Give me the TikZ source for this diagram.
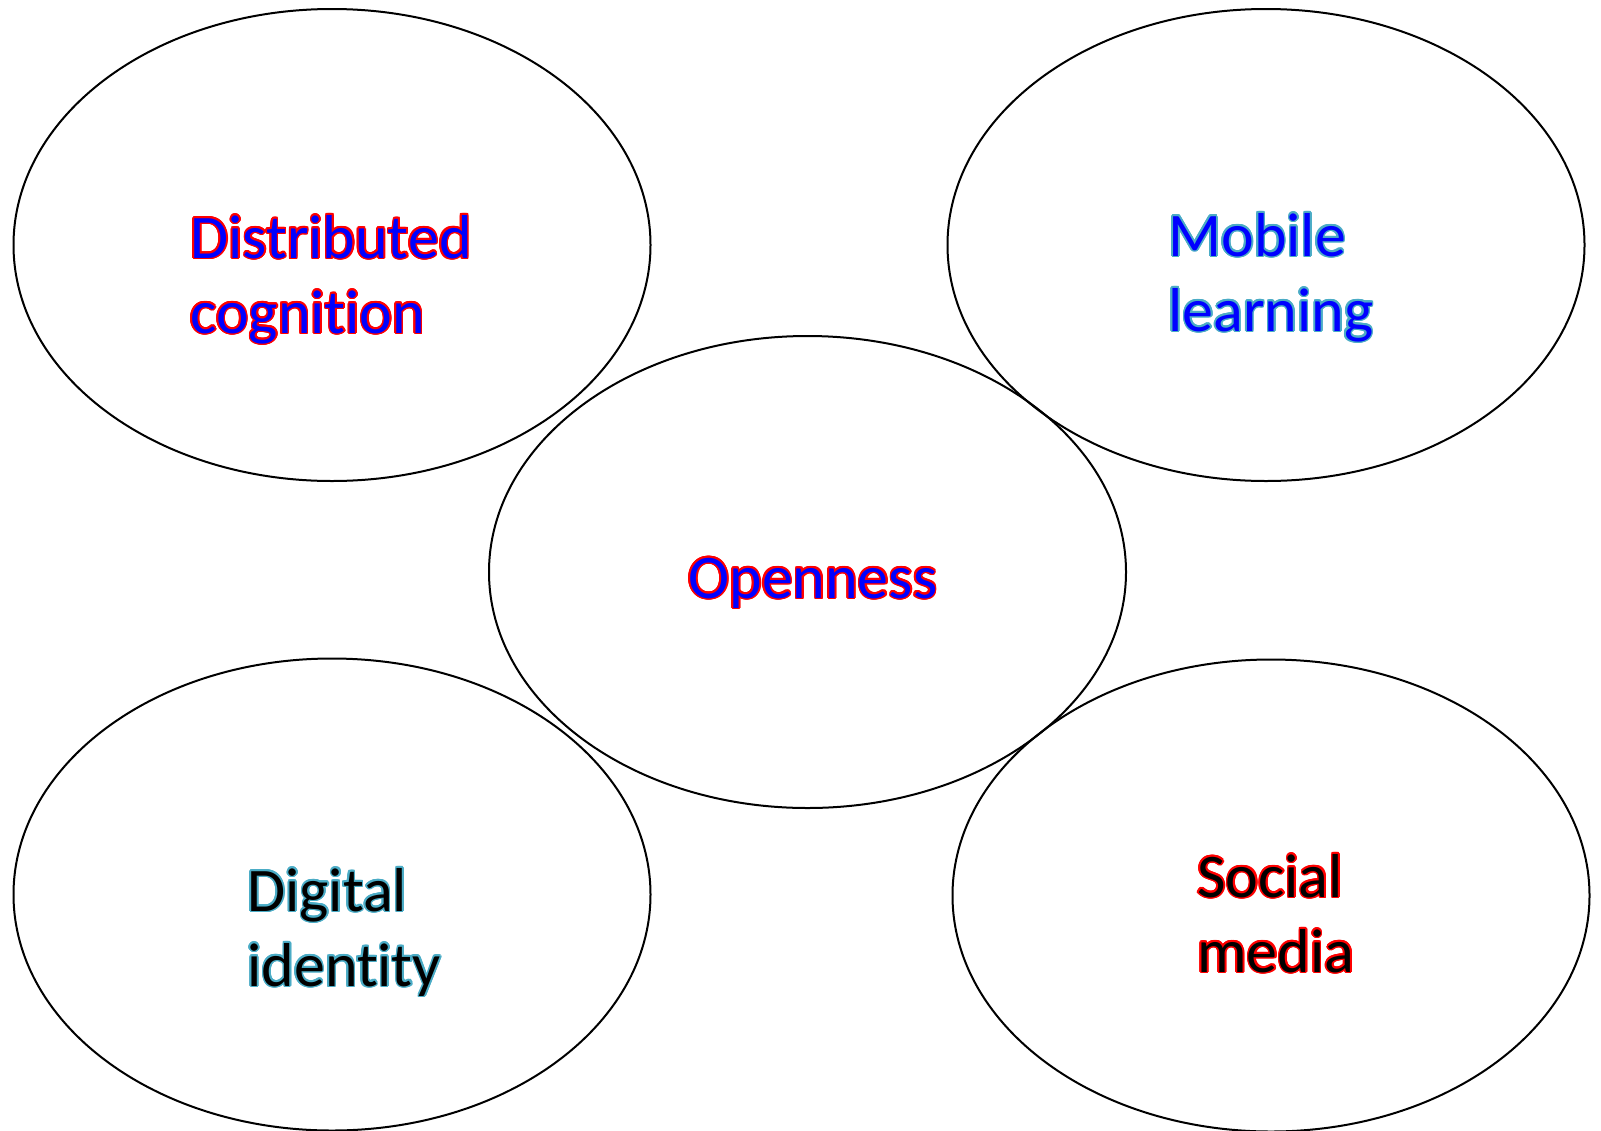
\documentclass[tikz,border=0pt]{standalone}
\usepackage{fontspec}
\setmainfont{Carlito}[Ligatures={NoCommon,NoRare}]
\usetikzlibrary{shapes.geometric,calc}

\definecolor{fillblue}{HTML}{0000FF}
\definecolor{edgered}{HTML}{FF0000}
\definecolor{edgeteal}{HTML}{4BACC6}

\tikzset{
  bubble/.style={draw=black, line width=1pt, ellipse, inner sep=0pt,
    minimum width=318.5pt, minimum height=236pt},
  lbl/.style={inner sep=0pt, anchor=base west, align=left,
    font=\fontsize{31}{37.5}\selectfont},
}

% text with a coloured rim: copies of the label in the rim colour, then the label itself
\newcommand\rimlabel[5]{%
  \foreach \ang in {0,22.5,...,337.5}
    \node[lbl, text=#4] at ($(#2)+(\ang:0.8pt)$) {#5};
  \node[lbl, text=#3] (#1) at (#2) {#5};
}

\begin{document}
\begin{tikzpicture}[x=0.5pt, y=-0.5pt]
  \useasboundingbox (0,0) rectangle (1601,1130);

  \node[bubble] (tl) at (332,245) {};
  \node[bubble] (tr) at (1266,245) {};
  \node[bubble] (bl) at (332,894.5) {};
  \node[bubble] (br) at (1271,895.5) {};
  \node[bubble] (mid) at (807.5,572) {};

  % baselines of the last line of each label
  \coordinate (ptl) at (190,333);
  \coordinate (ptr) at (1168,331);
  \coordinate (pmid) at (688,598);
  \coordinate (pbl) at (247,986);
  \coordinate (pbr) at (1197,972);

  \rimlabel{ttl}{ptl}{fillblue}{edgered}{Distributed\\cognition}
  \rimlabel{ttr}{ptr}{fillblue}{edgeteal}{Mobile\\learning}
  \rimlabel{tmid}{pmid}{fillblue}{edgered}{Openness}
  \rimlabel{tbl}{pbl}{black}{edgeteal}{Digital\\identity}
  \rimlabel{tbr}{pbr}{black}{edgered}{Social\\media}
\end{tikzpicture}
\end{document}
